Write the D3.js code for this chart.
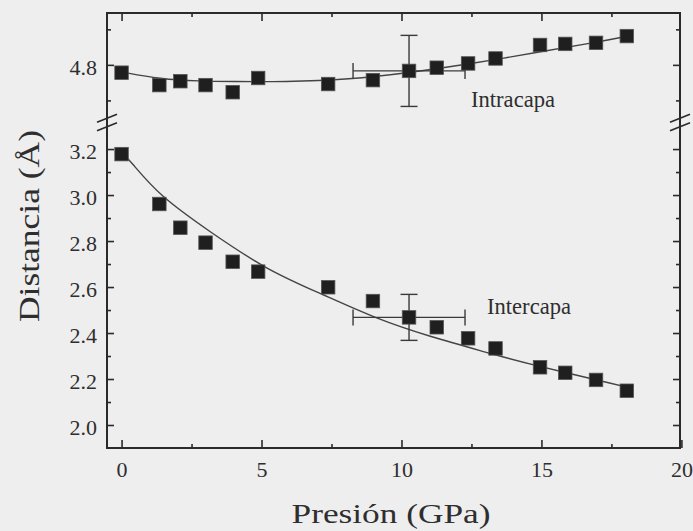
<!DOCTYPE html>
<html>
<head>
<meta charset="utf-8">
<script src="https://cdn.jsdelivr.net/npm/d3@7"></script>
<style>
  html, body { margin: 0; padding: 0; background: #eeeeee; }
  svg { display: block; }
  text { font-family: 'Liberation Serif', Tinos, 'Times New Roman', Times, serif; fill: #2e2e2e; }
</style>
</head>
<body>
<svg id="chart" width="693" height="531"></svg>
<script>
// Pressure (GPa) at which each distance was measured
const pressure = [0, 1.35, 2.1, 3.0, 3.97, 4.88, 7.38, 8.98, 10.27, 11.26, 12.38, 13.36, 14.95, 15.85, 16.95, 18.05];

// Intra-layer and inter-layer distances (Å)
const intracapa = [4.778, 4.743, 4.754, 4.743, 4.723, 4.763, 4.746, 4.757, 4.783, 4.792, 4.804, 4.818, 4.856, 4.859, 4.862, 4.881];
const intercapa = [3.178, 2.961, 2.858, 2.793, 2.710, 2.667, 2.599, 2.539, 2.468, 2.425, 2.377, 2.333, 2.251, 2.227, 2.196, 2.149];

// Fitted trend lines
const fitIntraP = [0, 1.375, 2.8, 3.98, 5.77, 8.16, 10.27, 12.34, 14.91, 16.91, 18.02];
const fitIntraD = [4.780, 4.760, 4.754, 4.753, 4.752, 4.759, 4.778, 4.801, 4.836, 4.863, 4.880];
const fitInterP = [0, 0.3, 1.35, 3.16, 5.19, 7.09, 9.11, 11.02, 13.16, 14.34, 18.05];
const fitInterD = [3.187, 3.150, 2.996, 2.840, 2.674, 2.573, 2.461, 2.384, 2.312, 2.271, 2.165];

// Representative error bar (index into the series)
const errIndex = 8;
const errPressure = 2.0;
const errDistance = 0.1;

// Tick values
const xMajor = [0, 5, 10, 15, 20];
const xMinor = [2.5, 7.5, 12.5, 17.5];
const yLowMajor = [2.0, 2.2, 2.4, 2.6, 2.8, 3.0, 3.2];
const yLowMinor = [2.1, 2.3, 2.5, 2.7, 2.9, 3.1];
const yHighMajor = [4.8];
const yHighMinor = [4.7, 4.9];

const svg = d3.select('#chart');
const ink = '#2a2a2a';
const serif = "'Liberation Serif', Tinos, 'Times New Roman', Times, serif";

const x = d3.scaleLinear().domain([-0.52, 19.95]).range([107, 680]);
const yLow = d3.scaleLinear().domain([1.9, 3.322]).range([448, 121]);
const yHigh = d3.scaleLinear().domain([4.642, 4.946]).range([121, 13]);

const frameLeft = x.range()[0], frameRight = x.range()[1];
const frameTop = yHigh.range()[1], frameBottom = yLow.range()[0];

// Frame
svg.append('rect')
  .attr('x', frameLeft).attr('y', frameTop)
  .attr('width', frameRight - frameLeft).attr('height', frameBottom - frameTop)
  .attr('fill', 'none').attr('stroke', ink).attr('stroke-width', 2);

function styleAxis(g) {
  g.attr('font-family', serif);
  g.select('.domain').remove();
  g.selectAll('line').attr('stroke', ink).attr('stroke-width', 1.6);
  g.selectAll('text')
    .style('font-family', serif)
    .style('font-size', '22px')
    .attr('fill', '#2e2e2e');
}

// Bottom and top x ticks (pointing inward)
svg.append('g').attr('transform', `translate(0,${frameBottom})`)
  .call(d3.axisBottom(x).tickValues(xMajor).tickSize(-8).tickFormat(d3.format('d')))
  .call(styleAxis)
  .call(g => g.selectAll('text').attr('y', 28.5).attr('dy', 0));
svg.append('g').attr('transform', `translate(0,${frameBottom})`)
  .call(d3.axisBottom(x).tickValues(xMinor).tickSize(-4).tickFormat(''))
  .call(styleAxis);
svg.append('g').attr('transform', `translate(0,${frameTop})`)
  .call(d3.axisTop(x).tickValues(xMajor.filter(v => v < 20)).tickSize(-8).tickFormat(''))
  .call(styleAxis);
svg.append('g').attr('transform', `translate(0,${frameTop})`)
  .call(d3.axisTop(x).tickValues(xMinor).tickSize(-4).tickFormat(''))
  .call(styleAxis);

// Left and right y ticks for both segments
[[yLow, yLowMajor, yLowMinor], [yHigh, yHighMajor, yHighMinor]].forEach(([sc, maj, min]) => {
  svg.append('g').attr('transform', `translate(${frameLeft},0)`)
    .call(d3.axisLeft(sc).tickValues(maj).tickSize(-7).tickPadding(10).tickFormat(d3.format('.1f')))
    .call(styleAxis)
    .call(g => g.selectAll('text').attr('dy', '0.42em'));
  svg.append('g').attr('transform', `translate(${frameLeft},0)`)
    .call(d3.axisLeft(sc).tickValues(min).tickSize(-4).tickFormat(''))
    .call(styleAxis);
  svg.append('g').attr('transform', `translate(${frameRight},0)`)
    .call(d3.axisRight(sc).tickValues(maj).tickSize(-7).tickFormat(''))
    .call(styleAxis);
  svg.append('g').attr('transform', `translate(${frameRight},0)`)
    .call(d3.axisRight(sc).tickValues(min).tickSize(-4).tickFormat(''))
    .call(styleAxis);
});

// Axis break marks
const breakY = 122.5;
[frameLeft, frameRight].forEach(ax => {
  [-4.3, 4.3].forEach(off => {
    svg.append('line')
      .attr('x1', ax - 10).attr('y1', breakY + off + 4)
      .attr('x2', ax + 10).attr('y2', breakY + off - 4)
      .attr('stroke', ink).attr('stroke-width', 1.6);
  });
});

// Fitted curves
const lineIntra = d3.line().x(d => x(d[0])).y(d => yHigh(d[1])).curve(d3.curveBasis);
const lineInter = d3.line().x(d => x(d[0])).y(d => yLow(d[1])).curve(d3.curveBasis);
svg.append('path')
  .attr('d', lineIntra(d3.zip(fitIntraP, fitIntraD)))
  .attr('fill', 'none').attr('stroke', '#444').attr('stroke-width', 1.4);
svg.append('path')
  .attr('d', lineInter(d3.zip(fitInterP, fitInterD)))
  .attr('fill', 'none').attr('stroke', '#444').attr('stroke-width', 1.4);

// Error bars
function errorBar(sc, px, py) {
  const g = svg.append('g').attr('stroke', '#3a3a3a').attr('stroke-width', 1.4);
  const cx = x(px), cy = sc(py);
  const x0 = x(px - errPressure), x1 = x(px + errPressure);
  const y0 = sc(py - errDistance), y1 = sc(py + errDistance);
  g.append('line').attr('x1', x0).attr('x2', x1).attr('y1', cy).attr('y2', cy);
  g.append('line').attr('x1', cx).attr('x2', cx).attr('y1', y0).attr('y2', y1);
  [x0, x1].forEach(v => g.append('line').attr('x1', v).attr('x2', v).attr('y1', cy - 8).attr('y2', cy + 8));
  [y0, y1].forEach(v => g.append('line').attr('x1', cx - 8.5).attr('x2', cx + 8.5).attr('y1', v).attr('y2', v));
}
errorBar(yHigh, pressure[errIndex], intracapa[errIndex]);
errorBar(yLow, pressure[errIndex], intercapa[errIndex]);

// Square markers
const size = 13.5;
function markers(sc, values) {
  svg.append('g').selectAll('rect')
    .data(d3.zip(pressure, values))
    .join('rect')
    .attr('x', d => x(d[0]) - size / 2)
    .attr('y', d => sc(d[1]) - size / 2)
    .attr('width', size).attr('height', size)
    .attr('fill', '#1f1f1f')
    .attr('stroke', '#555').attr('stroke-width', 0.8);
}
markers(yHigh, intracapa);
markers(yLow, intercapa);

// Series labels
svg.append('text').attr('x', 471).attr('y', 106.5)
  .attr('textLength', 84).attr('lengthAdjust', 'spacingAndGlyphs')
  .style('font-family', serif).style('font-size', '23px').text('Intracapa');
svg.append('text').attr('x', 487).attr('y', 313.5)
  .attr('textLength', 84).attr('lengthAdjust', 'spacingAndGlyphs')
  .style('font-family', serif).style('font-size', '23px').text('Intercapa');

// Axis titles
svg.append('text').attr('x', 391).attr('y', 523)
  .attr('text-anchor', 'middle')
  .attr('textLength', 199).attr('lengthAdjust', 'spacingAndGlyphs')
  .style('font-family', serif).style('font-size', '27px').text('Presión (GPa)');
svg.append('text')
  .attr('transform', 'translate(38.5,226) rotate(-90)')
  .attr('text-anchor', 'middle')
  .attr('textLength', 192).attr('lengthAdjust', 'spacingAndGlyphs')
  .style('font-family', serif).style('font-size', '29px').text('Distancia (Å)');
</script>
</body>
</html>
